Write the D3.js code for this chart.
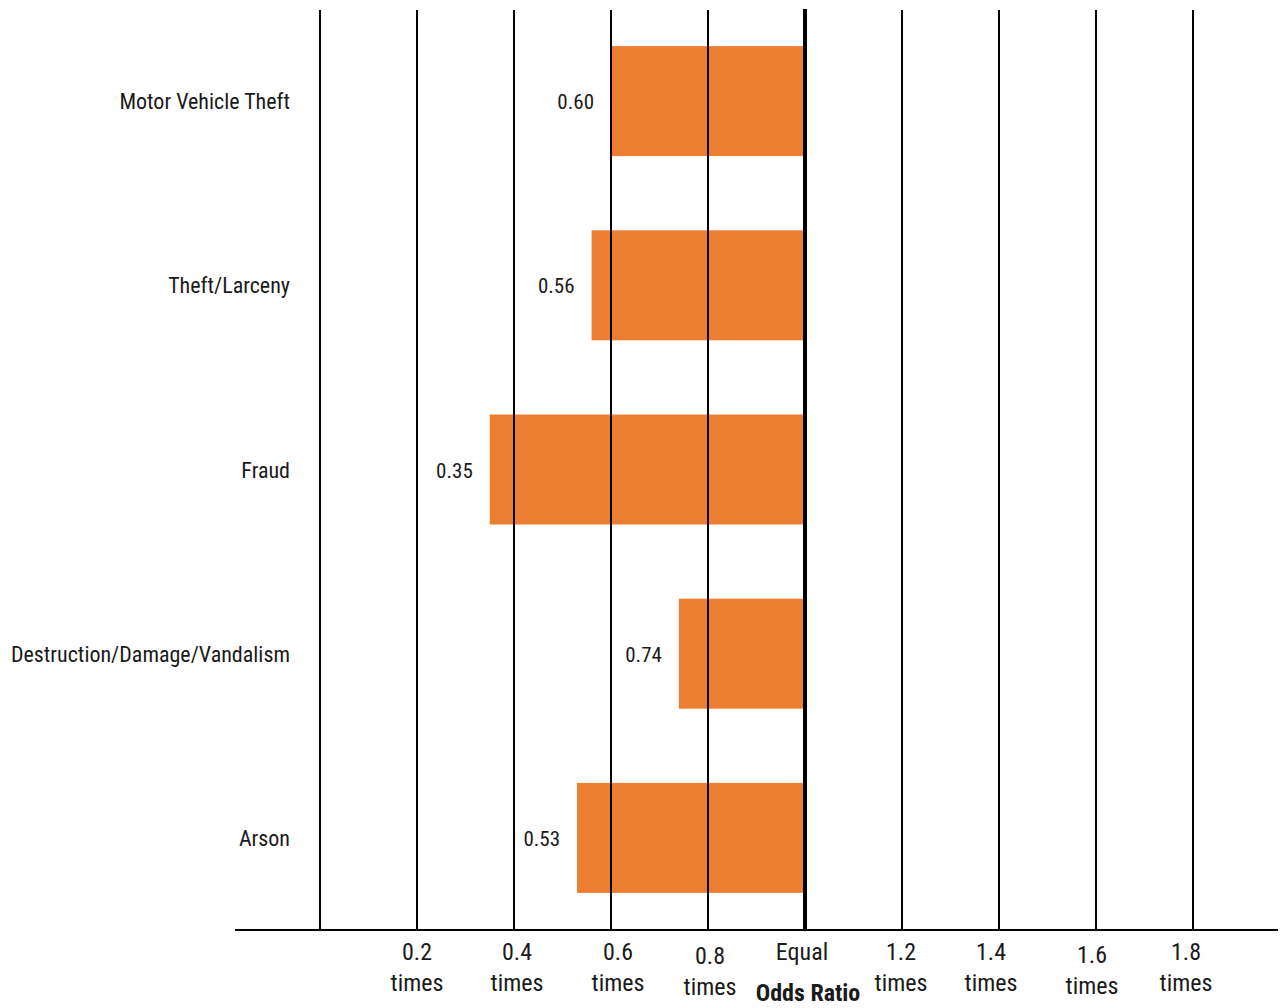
<!DOCTYPE html>
<html>
<head>
<meta charset="utf-8">
<script src="https://cdn.jsdelivr.net/npm/d3@7"></script>
<style>
  html, body { margin: 0; padding: 0; background: #fff; }
  svg { display: block; }
  text { font-family: "Liberation Sans Narrow", "Arial Narrow", "Roboto Condensed", "Liberation Sans", sans-serif; fill: #1a1a1a; }
</style>
</head>
<body>
<svg id="chart" width="1286" height="1008"></svg>
<script>
// ---- data ----
const categories = ["Motor Vehicle Theft", "Theft/Larceny", "Fraud", "Destruction/Damage/Vandalism", "Arson"];
const values = [0.60, 0.56, 0.35, 0.74, 0.53];
const valueLabels = ["0.60", "0.56", "0.35", "0.74", "0.53"];
const gridValues = [0, 0.2, 0.4, 0.6, 0.8, 1.2, 1.4, 1.6, 1.8];
const tickValues = [0.2, 0.4, 0.6, 0.8, 1.0, 1.2, 1.4, 1.6, 1.8];
const tickLine1 = ["0.2", "0.4", "0.6", "0.8", "Equal", "1.2", "1.4", "1.6", "1.8"];
const tickLine2 = ["times", "times", "times", "times", "", "times", "times", "times", "times"];
const baselineValue = 1.0;
const axisTitle = "Odds Ratio";

// ---- layout ----
const svg = d3.select("#chart");
const x = d3.scaleLinear().domain([0, 2]).range([320, 1290]);
const y = d3.scaleBand().domain(categories).range([9, 930]).paddingInner(0.403).paddingOuter(0.2015);
const gridTop = 10, axisY = 930;
// label placement nudges (pixels) mimicking the original layout
const tickNudgeX = [0, 3, 7, 2, -3, -1, -8, -4, -7];
const tickNudgeY = [0, 0, 0, 4, 0, 0, 0, 3, 0];

// bars (from value to the "Equal" line)
svg.append("g").selectAll("rect").data(categories).join("rect")
  .attr("x", (d, i) => x(Math.min(values[i], baselineValue)))
  .attr("width", (d, i) => Math.abs(x(baselineValue) - x(values[i])))
  .attr("y", d => y(d))
  .attr("height", y.bandwidth())
  .attr("fill", "#ED7D31");

// vertical gridlines (drawn over bars)
svg.append("g").selectAll("line").data(gridValues).join("line")
  .attr("x1", d => x(d)).attr("x2", d => x(d))
  .attr("y1", gridTop).attr("y2", axisY)
  .attr("stroke", "#000").attr("stroke-width", 2);

// equal line
svg.append("line")
  .attr("x1", x(baselineValue)).attr("x2", x(baselineValue))
  .attr("y1", 9).attr("y2", axisY)
  .attr("stroke", "#000").attr("stroke-width", 4);

// horizontal axis line
svg.append("line")
  .attr("x1", 235).attr("x2", 1278)
  .attr("y1", axisY).attr("y2", axisY)
  .attr("stroke", "#000").attr("stroke-width", 2);

// category labels
svg.append("g").selectAll("text").data(categories).join("text")
  .attr("x", 290)
  .attr("y", d => y(d) + y.bandwidth() / 2 + 8)
  .attr("text-anchor", "end")
  .attr("font-size", 22)
  .text(d => d);

// value labels
svg.append("g").selectAll("text").data(categories).join("text")
  .attr("x", (d, i) => x(values[i]) - 17)
  .attr("y", d => y(d) + y.bandwidth() / 2 + 8)
  .attr("text-anchor", "end")
  .attr("font-size", 21)
  .text((d, i) => valueLabels[i]);

// tick labels
const tg = svg.append("g").selectAll("g").data(tickValues).join("g")
  .attr("transform", (d, i) => `translate(${x(d) + tickNudgeX[i]},${tickNudgeY[i]})`);
tg.append("text")
  .attr("y", 960)
  .attr("text-anchor", "middle")
  .attr("font-size", 24)
  .text((d, i) => tickLine1[i]);
tg.append("text")
  .attr("y", 991)
  .attr("text-anchor", "middle")
  .attr("font-size", 24)
  .text((d, i) => tickLine2[i]);

// axis title
svg.append("text")
  .attr("x", x(baselineValue) + 3)
  .attr("y", 1001)
  .attr("text-anchor", "middle")
  .attr("font-size", 24)
  .attr("font-weight", "bold")
  .text(axisTitle);
</script>
</body>
</html>
